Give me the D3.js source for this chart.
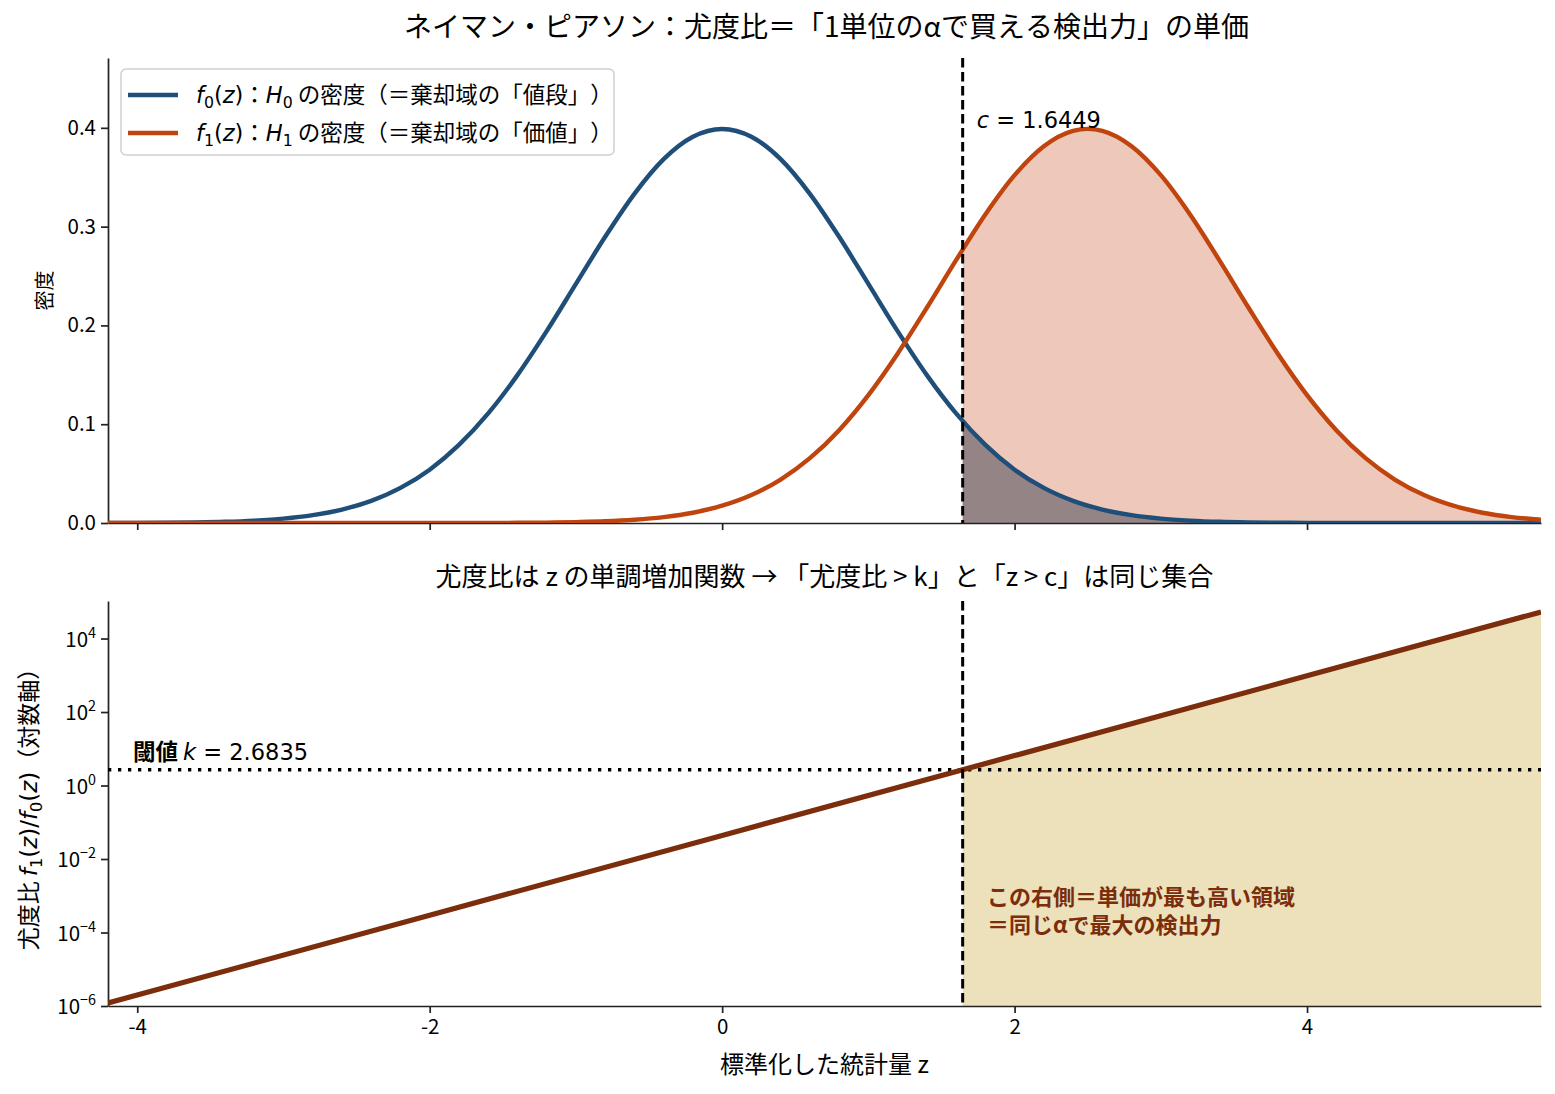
<!DOCTYPE html>
<html><head><meta charset="utf-8">
<script src="https://cdn.jsdelivr.net/npm/d3@7"></script>
<style>body{margin:0;background:#fff} svg{display:block} text,tspan{text-spacing-trim:space-all;font-kerning:none}</style>
</head><body>
<script>
// ---------- data ----------
const zGrid = [-4.2,-4.0,-3.8,-3.6,-3.4,-3.2,-3.0,-2.8,-2.6,-2.4,-2.2,-2.0,-1.8,-1.6,-1.4,-1.2,-1.0,-0.8,-0.6,-0.4,-0.2,
  0.0,0.2,0.4,0.6,0.8,1.0,1.2,1.4,1.6,1.8,2.0,2.2,2.4,2.6,2.8,3.0,3.2,3.4,3.6,3.8,4.0,4.2,4.4,4.6,4.8,5.0,5.2,5.4,5.6];
const densityH0 = [0.0001,0.0001,0.0003,0.0006,0.0012,0.0024,0.0044,0.0079,0.0136,0.0224,0.0355,0.0540,0.0790,0.1109,0.1497,0.1942,0.2420,0.2897,0.3332,0.3683,0.3910,
  0.3989,0.3910,0.3683,0.3332,0.2897,0.2420,0.1942,0.1497,0.1109,0.0790,0.0540,0.0355,0.0224,0.0136,0.0079,0.0044,0.0024,0.0012,0.0006,0.0003,0.0001,0.0001,0,0,0,0,0,0,0];
const densityH1 = [0,0,0,0,0,0,0,0,0,0,0,0,0,0.0001,0.0002,0.0004,0.0009,0.0017,0.0033,0.0060,0.0104,
  0.0175,0.0283,0.0440,0.0656,0.0940,0.1295,0.1714,0.2179,0.2661,0.3123,0.3521,0.3814,0.3970,0.3970,0.3814,0.3521,0.3123,0.2661,0.2179,0.1714,0.1295,0.0940,0.0656,0.0440,0.0283,0.0175,0.0104,0.0060,0.0033];
const ratioZ = [-4.2, -2.0, 0.0, 2.0, 4.0, 5.6];
const ratioValues = [1.21e-6, 2.96e-4, 0.0439, 6.52, 968, 52840];
const criticalC = 1.6449;
const thresholdK = 2.6835;
const xTicks = [-4, -2, 0, 2, 4];
const densityTicks = [0, 0.1, 0.2, 0.3, 0.4];
const ratioTickExps = [-6, -4, -2, 0, 2, 4];
const xDomain = [-4.2, 5.6];
const densityMax = 0.4707;
const ratioDomain = [1e-6, 1.05e5];

// ---------- layout ----------
const W = 1555, H = 1094;
const L = 108, R = 1541;
const top1 = 58, bot1 = 523, top2 = 601, bot2 = 1006;
const CJK = "'Noto Sans CJK JP','Noto Sans',sans-serif";
const MATH = "'DejaVu Sans',sans-serif";
const C0 = '#1f4e79', C1 = '#c0440e', CR = '#7b2d0c';

const svg = d3.select('body').append('svg').attr('width', W).attr('height', H)
  .style('font-family', CJK);

const x = d3.scaleLinear().domain(xDomain).range([L, R]);
const y1 = d3.scaleLinear().domain([0, densityMax]).range([bot1, top1]);
const y2 = d3.scaleLog().domain(ratioDomain).range([bot2, top2]);

function rich(parent, px, py, parts, size, anchor) {
  const t = parent.append('text').attr('x', px).attr('y', py).attr('font-size', size)
    .attr('text-anchor', anchor || 'start').attr('fill', '#000');
  let cur = 0;
  for (const p of parts) {
    const s = t.append('tspan').text(p.t);
    const small = p.sub || p.sup;
    const off = p.sub ? size * 0.22 : p.sup ? -size * 0.42 : 0;
    if (off !== cur) { s.attr('dy', off - cur); cur = off; }
    s.attr('font-size', small ? size * 0.7 : size);
    s.attr('font-family', p.m ? MATH : CJK);
    if (p.it) s.attr('font-style', 'italic');
    if (p.b) s.attr('font-weight', 'bold');
    if (p.fill) s.attr('fill', p.fill);
  }
  return t;
}

const defs = svg.append('defs');
defs.append('clipPath').attr('id', 'clipTop').append('rect')
  .attr('x', x(criticalC)).attr('y', top1).attr('width', R - x(criticalC)).attr('height', bot1 - top1);
defs.append('clipPath').attr('id', 'clipBot').append('rect')
  .attr('x', x(criticalC)).attr('y', top2).attr('width', R - x(criticalC)).attr('height', bot2 - top2);
defs.append('clipPath').attr('id', 'clipP1').append('rect')
  .attr('x', L).attr('y', top1 - 5).attr('width', R - L).attr('height', bot1 - top1 + 5);
defs.append('clipPath').attr('id', 'clipP2').append('rect')
  .attr('x', L).attr('y', top2).attr('width', R - L).attr('height', bot2 - top2);

// ---------- top panel ----------
const d0 = zGrid.map((z, i) => ({ z, v: densityH0[i] }));
const d1 = zGrid.map((z, i) => ({ z, v: densityH1[i] }));
const curve = d3.curveCatmullRom.alpha(0);
const area1 = d3.area().x(d => x(d.z)).y0(y1(0)).y1(d => y1(d.v)).curve(curve);
const line1 = d3.line().x(d => x(d.z)).y(d => y1(d.v)).curve(curve);

const p1 = svg.append('g');
p1.append('path').attr('d', area1(d1)).attr('fill', '#eec9bb').attr('clip-path', 'url(#clipTop)');
p1.append('path').attr('d', area1(d0)).attr('fill', '#958486').attr('clip-path', 'url(#clipTop)');

p1.append('g').attr('transform', `translate(${L},0)`)
  .call(d3.axisLeft(y1).tickValues(densityTicks).tickFormat(d3.format('.1f')).tickSize(7).tickSizeOuter(0).tickPadding(5));
p1.append('g').attr('transform', `translate(0,${bot1})`)
  .call(d3.axisBottom(x).tickValues(xTicks).tickFormat('').tickSize(7).tickSizeOuter(0));

const curves = p1.append('g').attr('clip-path', 'url(#clipP1)');
curves.append('path').attr('d', line1(d0)).attr('fill', 'none').attr('stroke', C0).attr('stroke-width', 4.4);
curves.append('path').attr('d', line1(d1)).attr('fill', 'none').attr('stroke', C1).attr('stroke-width', 4.4);

p1.append('line').attr('x1', x(criticalC)).attr('x2', x(criticalC)).attr('y1', top1).attr('y2', bot1)
  .attr('stroke', '#000').attr('stroke-width', 3).attr('stroke-dasharray', '9.5,4.5');

rich(p1, x(criticalC) + 14, 128, [{ t: 'c', m: 1, it: 1 }, { t: ' = 1.6449', m: 1 }], 22.5);

// legend
const lg = p1.append('g');
lg.append('rect').attr('x', 121).attr('y', 69).attr('width', 493).attr('height', 86).attr('rx', 5)
  .attr('fill', '#fff').attr('fill-opacity', 0.85).attr('stroke', '#cfcfcf').attr('stroke-width', 1.5);
const legendItems = [
  { c: C0, parts: [{ t: 'f', m: 1, it: 1 }, { t: '0', m: 1, sub: 1 }, { t: '(', m: 1 }, { t: 'z', m: 1, it: 1 }, { t: ')', m: 1 }, { t: '：' }, { t: 'H', m: 1, it: 1 }, { t: '0', m: 1, sub: 1 }, { t: ' の密度（＝棄却域の「値段」）' }] },
  { c: C1, parts: [{ t: 'f', m: 1, it: 1 }, { t: '1', m: 1, sub: 1 }, { t: '(', m: 1 }, { t: 'z', m: 1, it: 1 }, { t: ')', m: 1 }, { t: '：' }, { t: 'H', m: 1, it: 1 }, { t: '1', m: 1, sub: 1 }, { t: ' の密度（＝棄却域の「価値」）' }] }
];
legendItems.forEach((it, i) => {
  const yy = 95 + i * 38;
  lg.append('line').attr('x1', 128).attr('x2', 178).attr('y1', yy).attr('y2', yy).attr('stroke', it.c).attr('stroke-width', 4.4);
  rich(lg, 196, yy + 8, it.parts, 22.5);
});

// ---------- bottom panel ----------
const rd = ratioZ.map((z, i) => ({ z, v: ratioValues[i] }));
const p2 = svg.append('g');
const area2 = d3.area().x(d => x(d.z)).y0(y2(ratioDomain[0])).y1(d => y2(d.v));
p2.append('path').attr('d', area2(rd)).attr('fill', '#ede1bb').attr('clip-path', 'url(#clipBot)');

p2.append('g').attr('transform', `translate(${L},0)`)
  .call(d3.axisLeft(y2).tickValues(ratioTickExps.map(e => Math.pow(10, e))).tickFormat('').tickSize(7).tickSizeOuter(0));
ratioTickExps.forEach(e => {
  rich(p2, L - 12, y2(Math.pow(10, e)) + 8, [{ t: '10' }, { t: String(e).replace('-', '\u2212'), sup: 1 }], 20.5, 'end');
});
p2.append('g').attr('transform', `translate(0,${bot2})`)
  .call(d3.axisBottom(x).tickValues(xTicks).tickFormat(d => String(d)).tickSize(7).tickSizeOuter(0).tickPadding(6));

p2.append('line').attr('x1', L).attr('x2', R).attr('y1', y2(thresholdK)).attr('y2', y2(thresholdK))
  .attr('stroke', '#000').attr('stroke-width', 3.3).attr('stroke-dasharray', '3.3,6.7');
p2.append('path').attr('d', d3.line().x(d => x(d.z)).y(d => y2(d.v))(rd)).attr('fill', 'none')
  .attr('stroke', CR).attr('stroke-width', 5.2).attr('clip-path', 'url(#clipP2)');
p2.append('line').attr('x1', x(criticalC)).attr('x2', x(criticalC)).attr('y1', top2).attr('y2', bot2)
  .attr('stroke', '#000').attr('stroke-width', 3).attr('stroke-dasharray', '9.5,4.5');

rich(p2, 133, 760, [{ t: '閾値 ', b: 1 }, { t: 'k', m: 1, it: 1 }, { t: ' = 2.6835', m: 1 }], 22.5);
p2.append('text').attr('x', 987).attr('y', 905).attr('font-size', 22).attr('font-weight', 'bold').attr('fill', CR)
  .text('この右側＝単価が最も高い領域');
p2.append('text').attr('x', 987).attr('y', 933).attr('font-size', 22).attr('font-weight', 'bold').attr('fill', CR)
  .text('＝同じαで最大の検出力');

// axis styling
svg.selectAll('.domain').attr('stroke', '#222').attr('stroke-width', 1.7);
svg.selectAll('.tick line').attr('stroke', '#222').attr('stroke-width', 1.7);
svg.selectAll('.tick text').attr('font-size', 20.5).attr('font-family', CJK).attr('fill', '#000');

// ---------- titles & labels ----------
svg.append('text').attr('x', (L + R) / 2 + 2).attr('y', 37).attr('text-anchor', 'middle').attr('font-size', 28)
  .text('ネイマン・ピアソン：尤度比＝「1単位のαで買える検出力」の単価');
svg.append('text').attr('x', (L + R) / 2).attr('y', 586).attr('text-anchor', 'middle').attr('font-size', 26)
  .text('尤度比は z の単調増加関数 → 「尤度比 > k」と「z > c」は同じ集合');
svg.append('text').attr('x', (L + R) / 2).attr('y', 1073).attr('text-anchor', 'middle').attr('font-size', 24)
  .text('標準化した統計量 z');
const yl1 = svg.append('g').attr('transform', `translate(52,${(top1 + bot1) / 2}) rotate(-90)`);
yl1.append('text').attr('text-anchor', 'middle').attr('font-size', 20).text('密度');
const yl2 = svg.append('g').attr('transform', `translate(37,${(top2 + bot2) / 2}) rotate(-90)`);
rich(yl2, 0, 0, [{ t: '尤度比 ' }, { t: 'f', m: 1, it: 1 }, { t: '1', m: 1, sub: 1 }, { t: '(', m: 1 }, { t: 'z', m: 1, it: 1 }, { t: ')/', m: 1 }, { t: 'f', m: 1, it: 1 }, { t: '0', m: 1, sub: 1 }, { t: '(', m: 1 }, { t: 'z', m: 1, it: 1 }, { t: ')', m: 1 }, { t: '（対数軸）' }], 23, 'middle');
</script>
</body></html>
